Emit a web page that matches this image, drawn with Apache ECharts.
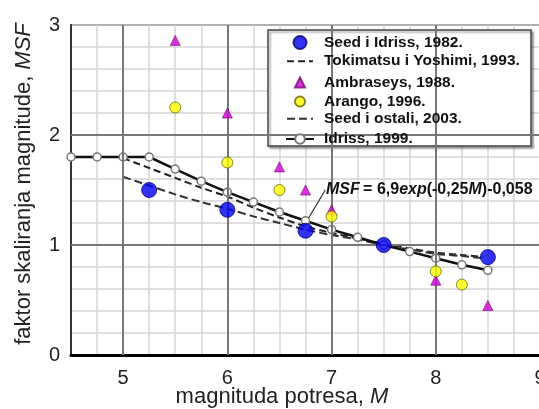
<!DOCTYPE html>
<html><head><meta charset="utf-8">
<script src="https://cdn.jsdelivr.net/npm/echarts@6/dist/echarts.min.js"></script>
<style>html,body{margin:0;padding:0;background:#fff}#c{width:539px;height:409px}</style>
</head><body><div id="c"></div>
<script>
// ---- data ----
var seed1982M = [5.25, 6, 6.75, 7.5, 8.5];
var seed1982V = [1.50, 1.32, 1.13, 1.00, 0.89];
var ambrM = [5.5, 6, 6.5, 6.75, 7, 8, 8.5];
var ambrV = [2.86, 2.20, 1.71, 1.50, 1.32, 0.68, 0.45];
var arangoM = [5.5, 6, 6.5, 7, 8, 8.25];
var arangoV = [2.25, 1.75, 1.50, 1.26, 0.76, 0.64];
var dashM = [5, 5.25, 5.5, 5.75, 6, 6.25, 6.5, 6.75, 7, 7.25, 7.5, 7.75, 8, 8.25, 8.45];
var tokiV = [1.79, 1.70, 1.61, 1.52, 1.44, 1.34, 1.25, 1.17, 1.11, 1.06, 1.01, 0.97, 0.93, 0.91, 0.89];
var seed2003V = [1.62, 1.54, 1.46, 1.39, 1.33, 1.26, 1.20, 1.14, 1.09, 1.05, 1.00, 0.96, 0.92, 0.90, 0.88];
var idrissM = [4.5, 4.75, 5, 5.25, 5.5, 5.75, 6, 6.25, 6.5, 6.75, 7, 7.25, 7.5, 7.75, 8, 8.25, 8.5];
var idrissV = [1.80, 1.80, 1.80, 1.80, 1.69, 1.58, 1.48, 1.39, 1.30, 1.22, 1.14, 1.07, 1.00, 0.94, 0.88, 0.82, 0.77];
var majorX = [5, 6, 7, 8];
var majorY = [1, 2];
var leaderFrom = [6.78, 1.245];
var leaderTo = [6.94, 1.50];
var names = ['Seed i Idriss, 1982.', 'Tokimatsu i Yoshimi, 1993.', 'Ambraseys, 1988.', 'Arango, 1996.', 'Seed i ostali, 2003.', 'Idriss, 1999.'];

function zip(a, b) { return a.map(function (x, i) { return [x, b[i]]; }); }

var chart = echarts.init(document.getElementById('c'), null, { renderer: 'canvas' });
var font = 'Arial, "Liberation Sans", sans-serif';
var majorLines = majorX.map(function (v) { return { xAxis: v }; })
  .concat(majorY.map(function (v) { return { yAxis: v }; }));

// legend layout (one legend component per entry so icons can differ in size)
var iconW = [13, 26, 10, 10, 26, 28];
var iconH = [13, 14, 10, 10, 14, 12];
var iconCX = 299, textX = 323, rowY0 = 41, rowStep = 19.2;
var legends = names.map(function (n, i) {
  return {
    data: [{ name: n, itemStyle: (i === 1 || i === 4) ? { opacity: 0 } : undefined }],
    left: iconCX - iconW[i] / 2, top: rowY0 + i * rowStep - iconH[i] / 2,
    padding: 0, itemWidth: iconW[i], itemHeight: iconH[i], selectedMode: false, z: 10,
    textStyle: { fontSize: 15.5, fontWeight: 'bold', fontFamily: font, color: '#111',
      padding: [0, 0, 0, textX - (iconCX + iconW[i] / 2 + 5)] }
  };
});

var nameRich = {
  n: { fontSize: 22, fontFamily: font, color: '#222' },
  i: { fontSize: 22, fontFamily: font, fontStyle: 'italic', color: '#222' }
};

chart.setOption({
  animation: false,
  backgroundColor: '#fff',
  grid: { left: 71, right: -1, top: 25, bottom: 54, outerBoundsMode: 'none', containLabel: false,
    show: true, borderColor: '#444', borderWidth: 2, backgroundColor: 'transparent' },
  xAxis: {
    type: 'value', min: 4.5, max: 9, interval: 0.25,
    axisLine: { show: true, lineStyle: { color: '#000', width: 3 } },
    axisTick: { show: false },
    splitLine: { show: true, lineStyle: { color: '#d4d4d4', width: 1.5 } },
    axisLabel: { margin: 13, color: '#222', fontSize: 20, fontFamily: font,
      formatter: function (v) { return Math.abs(v - Math.round(v)) < 1e-6 ? String(Math.round(v)) : ''; } },
    name: '{n|magnituda potresa, }{i|M}', nameLocation: 'middle', nameGap: 31, nameMoveOverlap: false,
    nameTextStyle: { padding: [0, 47, 0, 0], rich: nameRich }
  },
  yAxis: {
    type: 'value', min: 0, max: 3, interval: 0.2,
    axisLine: { show: true, lineStyle: { color: '#333', width: 2 } },
    axisTick: { show: false },
    splitLine: { show: true, lineStyle: { color: '#d4d4d4', width: 1.5 } },
    axisLabel: { margin: 11, color: '#222', fontSize: 20, fontFamily: font,
      formatter: function (v) { return Math.abs(v - Math.round(v)) < 1e-6 ? String(Math.round(v)) : ''; } },
    name: '{n|faktor skaliranja magnitude, }{i|MSF}', nameLocation: 'middle', nameGap: 36,
    nameTextStyle: { padding: [0, 0, 0, 12], rich: nameRich }
  },
  legend: legends,
  graphic: [
    { type: 'rect', shape: { x: 268, y: 30, width: 263, height: 116 }, z: 5,
      style: { fill: '#fff', stroke: '#444', lineWidth: 1.5, shadowColor: 'rgba(0,0,0,0.35)', shadowOffsetX: 2, shadowOffsetY: 2, shadowBlur: 2 } },
    { type: 'text', left: 326, top: 182, z: 100,
      style: { text: '{i|MSF} {r|= 6,9}{i|exp}{r|(-0,25}{i|M}{r|)-0,058}',
        rich: { i: { fontSize: 16, fontStyle: 'italic', fontWeight: 'bold', fontFamily: font, fill: '#111' },
                r: { fontSize: 16, fontWeight: 'bold', fontFamily: font, fill: '#111' } } } }
  ],
  series: [
    { type: 'line', name: 'major', data: [], silent: true, z: 1,
      markLine: { silent: true, symbol: 'none', label: { show: false }, animation: false,
        lineStyle: { color: '#777', width: 2, type: 'solid' }, data: majorLines } },
    { type: 'line', name: names[5], data: zip(idrissM, idrissV), z: 4,
      symbol: 'circle', symbolSize: 8,
      lineStyle: { color: '#111', width: 2.5 },
      itemStyle: { color: '#fff', borderColor: '#777', borderWidth: 1.5 },
      markLine: { silent: true, symbol: 'none', label: { show: false },
        lineStyle: { color: '#333', width: 1.2, type: 'solid' },
        data: [[{ coord: leaderFrom }, { coord: leaderTo }]] } },
    { type: 'line', name: names[1], data: zip(dashM, tokiV), z: 3, symbol: 'none', smooth: 0.3,
      lineStyle: { color: '#222', width: 2, type: [7, 4] }, itemStyle: { color: '#222' } },
    { type: 'line', name: names[4], data: zip(dashM, seed2003V), z: 3, symbol: 'none', smooth: 0.3,
      lineStyle: { color: '#333', width: 2, type: [8, 4] }, itemStyle: { color: '#333' } },
    { type: 'scatter', name: names[0], data: zip(seed1982M, seed1982V), z: 6,
      symbol: 'circle', symbolSize: 15, itemStyle: { color: '#0000f0', borderColor: '#00007a', borderWidth: 1 } },
    { type: 'scatter', name: names[2], data: zip(ambrM, ambrV), z: 6,
      symbol: 'triangle', symbolSize: 10, itemStyle: { color: '#d400d4', borderColor: '#7a007a', borderWidth: 0.8 } },
    { type: 'scatter', name: names[3], data: zip(arangoM, arangoV), z: 6,
      symbol: 'circle', symbolSize: 11, itemStyle: { color: '#ffff00', borderColor: '#666600', borderWidth: 1 } }
  ]
});
</script></body></html>
